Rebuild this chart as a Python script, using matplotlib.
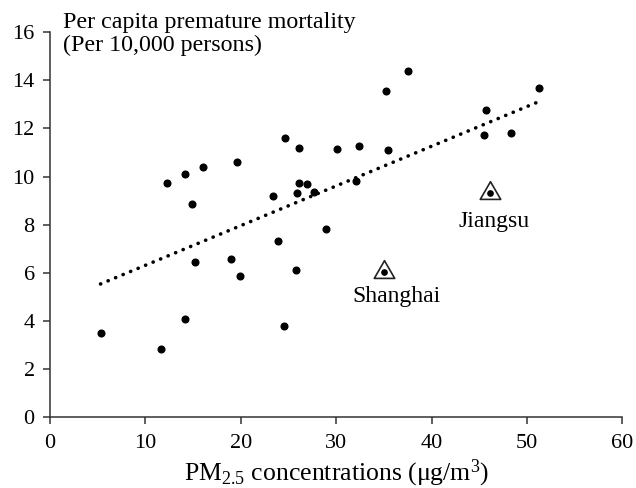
import numpy as np
import matplotlib
matplotlib.use("Agg")
import matplotlib.pyplot as plt
from matplotlib.path import Path

plt.rcParams['font.family'] = ['Liberation Serif', 'DejaVu Serif']
plt.rcParams['mathtext.fontset'] = 'custom'
plt.rcParams['mathtext.rm'] = 'Liberation Serif'
plt.rcParams['mathtext.it'] = 'Liberation Serif:italic'

# provinces (PM2.5 in ug/m3, premature mortality per 10,000 persons)
pm25 = [5.3, 11.6, 12.3, 14.2, 14.2, 14.9, 15.2, 16.0, 19.0, 19.6, 19.9,
        23.4, 23.9, 24.5, 24.6, 25.8, 25.9, 26.1, 26.1, 26.9, 27.7, 28.9,
        30.1, 32.1, 32.4, 35.2, 35.4, 37.5, 45.5, 45.7, 48.3, 51.3]
mortality = [3.52, 2.84, 9.73, 4.07, 10.12, 8.86, 6.47, 10.40, 6.57, 10.59, 5.85,
             9.21, 7.34, 3.80, 11.61, 6.12, 9.32, 9.72, 11.20, 9.70, 9.35, 7.81,
             11.15, 9.82, 11.25, 13.57, 11.11, 14.38, 11.72, 12.77, 11.82, 13.67]

# highlighted provinces
hl_names = ["Shanghai", "Jiangsu"]
hl_pm25 = [35.0, 46.1]
hl_mortality = [6.03, 9.30]

# linear trend line end points
trend_x = [5.3, 51.3]
trend_y = [5.54, 13.12]

fig = plt.figure(figsize=(6.36, 4.88), dpi=100)
ax = fig.add_axes([0.0786, 0.1447, 0.9, 0.7897])

ax.plot(pm25, mortality, 'o', color='black', markersize=4.8, zorder=3)

# trend line, made of round dots
ax.plot(trend_x, trend_y, color='black', linewidth=2.6,
        linestyle=(0, (0.05, 2.2)), dash_capstyle='round', zorder=2)

# triangle centred on its centroid
tri = Path([(0, 1), (-0.866, -0.5), (0.866, -0.5), (0, 1)],
           [Path.MOVETO, Path.LINETO, Path.LINETO, Path.CLOSEPOLY])
ax.plot(hl_pm25, hl_mortality, linestyle='none', marker=tri, markersize=17,
        markerfacecolor='white', markeredgecolor='#222222', markeredgewidth=1.2, zorder=3)
ax.plot(hl_pm25, hl_mortality, 'o', color='black', markersize=3.8, zorder=4)

label_off = [(1.3, -1.26), (0.5, -1.4)]
for name, x, y, (dx, dy) in zip(hl_names, hl_pm25, hl_mortality, label_off):
    ax.text(x + dx, y + dy, name, ha='center', va='baseline', fontsize=17)

ax.set_xlim(0, 60)
ax.set_ylim(0, 16)
ax.set_xticks(np.arange(0, 61, 10))
ax.set_yticks(np.arange(0, 17, 2))

for s in ['top', 'right']:
    ax.spines[s].set_visible(False)
for s in ['left', 'bottom']:
    ax.spines[s].set_color('#333333')
    ax.spines[s].set_linewidth(1.1)
ax.tick_params(axis='both', direction='out', length=5, width=1.1, color='#333333',
               labelsize=16)
ax.tick_params(axis='y', pad=6)
ax.tick_params(axis='x', pad=7)

ax.set_xlabel(r'PM$_{\mathregular{2.5}}$ concentrations ($\mathregular{\mu}$g/m$^{\mathregular{3}}$)',
              fontsize=18.5, labelpad=3)

ax.text(1.36, 16.85, "Per capita premature mortality\n(Per 10,000 persons)",
        ha='left', va='top', fontsize=17.3, linespacing=1.15, clip_on=False)

plt.savefig("out.png", dpi=100)
